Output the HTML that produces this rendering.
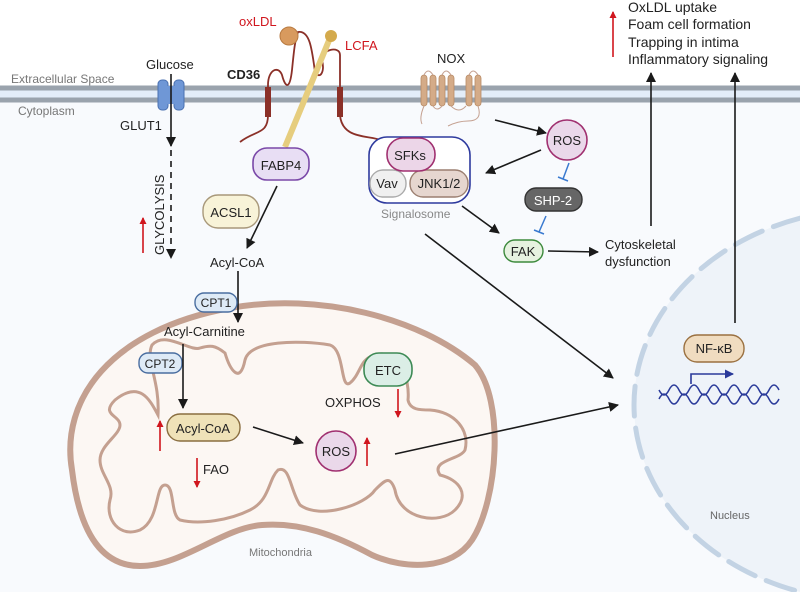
<!DOCTYPE html>
<html><head><meta charset="utf-8"><style>
html,body{margin:0;padding:0;background:#fff}
svg{display:block;font-family:"Liberation Sans",sans-serif}
</style></head><body>
<svg width="800" height="592" viewBox="0 0 800 592" xmlns="http://www.w3.org/2000/svg">
<defs>
<marker id="ah" markerWidth="10" markerHeight="10" refX="9" refY="5" orient="auto" markerUnits="userSpaceOnUse"><path d="M0,0 L10,5 L0,10 z" fill="#1a1a1a"/></marker>
<marker id="ar" markerWidth="7" markerHeight="7" refX="6" refY="3.5" orient="auto" markerUnits="userSpaceOnUse"><path d="M0,0 L7,3.5 L0,7 z" fill="#d0161e"/></marker>
<marker id="ab" markerWidth="9" markerHeight="9" refX="8" refY="4.5" orient="auto" markerUnits="userSpaceOnUse"><path d="M0,0 L9,4.5 L0,9 z" fill="#2a3a9a"/></marker>
</defs>
<rect x="0" y="100" width="800" height="492" fill="#f8fafd"/>
<!-- membrane -->
<rect x="0" y="89" width="800" height="10" fill="#e3edf9"/>
<line x1="0" y1="88" x2="800" y2="88" stroke="#9aa3ad" stroke-width="5"/>
<line x1="0" y1="100" x2="800" y2="100" stroke="#9aa3ad" stroke-width="5"/>
<text x="11" y="83" font-size="12" fill="#777">Extracellular Space</text>
<text x="18" y="115" font-size="12" fill="#777">Cytoplasm</text>

<!-- nucleus -->
<ellipse cx="872" cy="405" rx="238" ry="196" fill="#eef3f9" stroke="#c3d3e4" stroke-width="5" stroke-dasharray="30 12" stroke-linecap="round"/>
<text x="710" y="519" font-size="11" fill="#666">Nucleus</text>

<!-- mitochondria -->
<path d="M72,470 C60,400 110,330 230,308 C320,292 420,318 475,365 C505,400 498,500 472,540 C452,570 405,570 372,555 C335,535 300,522 262,525 C222,528 182,566 140,566 C95,566 78,520 72,470 Z" fill="#fcf7f3" stroke="#c4a090" stroke-width="6"/>
<path d="M115,400 C140,380 150,400 158,415 C160,380 145,360 152,345 C165,330 190,352 200,348 C210,345 215,345 225,353 C230,370 240,385 245,360 C250,340 300,340 330,345 C345,350 340,390 350,383 C360,375 360,360 372,356 C400,345 410,380 408,400 C410,410 420,410 430,410 C455,412 470,430 465,450 C460,460 430,460 440,475 C460,480 470,495 455,510 C440,525 400,520 395,490 C390,475 385,480 375,490 C365,505 320,520 300,505 C290,490 290,465 278,470 C268,480 270,500 250,510 C230,520 200,525 180,520 C170,515 175,485 165,485 C155,485 160,520 140,530 C120,538 105,520 110,500 C115,485 100,475 100,460 C100,445 120,435 120,425 C120,415 100,415 115,400 Z" fill="none" stroke="#c4a090" stroke-width="3"/>
<text x="249" y="556" font-size="11" fill="#777">Mitochondria</text>

<!-- glucose / GLUT1 -->
<rect x="158" y="80" width="10" height="30" rx="4" fill="#6f97d6" stroke="#4a70b0"/>
<rect x="174" y="80" width="10" height="30" rx="4" fill="#6f97d6" stroke="#4a70b0"/>
<rect x="165" y="86" width="12" height="18" fill="#6f97d6"/>
<text x="146" y="69" font-size="13" fill="#222">Glucose</text>
<line x1="171" y1="74" x2="171" y2="146" stroke="#1a1a1a" stroke-width="1.6" marker-end="url(#ah)"/>
<line x1="171" y1="150" x2="171" y2="258" stroke="#1a1a1a" stroke-width="1.6" stroke-dasharray="6 5" marker-end="url(#ah)"/>
<text x="120" y="130" font-size="13" fill="#222">GLUT1</text>
<text x="0" y="0" font-size="13" fill="#222" transform="translate(164,255) rotate(-90)">GLYCOLYSIS</text>
<line x1="143" y1="253" x2="143" y2="218" stroke="#d0161e" stroke-width="1.6" marker-end="url(#ar)"/>

<!-- CD36 -->
<text x="227" y="79" font-size="13" font-weight="bold" fill="#222">CD36</text>
<text x="239" y="26" font-size="13" fill="#d0161e">oxLDL</text>
<text x="345" y="50" font-size="13" fill="#d0161e">LCFA</text>
<path d="M240,142 C255,130 268,135 268,115 L268,85 C268,70 278,65 282,75 C286,90 290,88 292,70 C294,50 295,40 298,32 C310,30 312,50 315,72 C320,80 325,72 322,60 C320,50 340,45 340,55 L340,115 C342,140 370,135 380,140" fill="none" stroke="#8b3028" stroke-width="1.8"/>
<rect x="265" y="87" width="6" height="30" fill="#8b3028"/>
<rect x="337" y="87" width="6" height="30" fill="#8b3028"/>
<line x1="330" y1="38" x2="285" y2="147" stroke="#e6cd7e" stroke-width="6"/>
<circle cx="331" cy="36" r="6" fill="#d4aa4c"/>
<circle cx="289" cy="36" r="9" fill="#d89a5e" stroke="#b87a40"/>
<rect x="253" y="148" width="56" height="32" rx="14" fill="#e8def4" stroke="#7a48a8" stroke-width="1.6"/>
<text x="281" y="170" font-size="13" text-anchor="middle" fill="#222">FABP4</text>
<rect x="203" y="195" width="56" height="33" rx="15" fill="#f8f3d8" stroke="#a8987a" stroke-width="1.4"/>
<text x="231" y="217" font-size="13" text-anchor="middle" fill="#222">ACSL1</text>
<line x1="277" y1="186" x2="247" y2="248" stroke="#1a1a1a" stroke-width="1.6" marker-end="url(#ah)"/>
<text x="210" y="267" font-size="13" fill="#222">Acyl-CoA</text>
<line x1="238" y1="271" x2="238" y2="322" stroke="#1a1a1a" stroke-width="1.6" marker-end="url(#ah)"/>
<rect x="195" y="293" width="42" height="19" rx="9" fill="#deeaf6" stroke="#4a6ea0" stroke-width="1.4"/>
<text x="216" y="307" font-size="12" text-anchor="middle" fill="#222">CPT1</text>
<text x="164" y="336" font-size="13" fill="#222">Acyl-Carnitine</text>
<rect x="139" y="353" width="43" height="20" rx="9" fill="#deeaf6" stroke="#4a6ea0" stroke-width="1.4"/>
<text x="160" y="368" font-size="12" text-anchor="middle" fill="#222">CPT2</text>
<line x1="183" y1="344" x2="183" y2="408" stroke="#1a1a1a" stroke-width="1.6" marker-end="url(#ah)"/>
<rect x="167" y="414" width="73" height="27" rx="13" fill="#efe2b8" stroke="#8a6e40" stroke-width="1.4"/>
<text x="203" y="433" font-size="13" text-anchor="middle" fill="#222">Acyl-CoA</text>
<line x1="160" y1="451" x2="160" y2="421" stroke="#d0161e" stroke-width="1.6" marker-end="url(#ar)"/>
<line x1="197" y1="458" x2="197" y2="487" stroke="#d0161e" stroke-width="1.6" marker-end="url(#ar)"/>
<text x="203" y="474" font-size="13" fill="#222">FAO</text>
<line x1="253" y1="427" x2="303" y2="443" stroke="#1a1a1a" stroke-width="1.6" marker-end="url(#ah)"/>
<circle cx="336" cy="451" r="20" fill="#ead8ea" stroke="#a03070" stroke-width="1.6"/>
<text x="336" y="456" font-size="13" text-anchor="middle" fill="#222">ROS</text>
<line x1="367" y1="466" x2="367" y2="438" stroke="#d0161e" stroke-width="1.6" marker-end="url(#ar)"/>
<rect x="364" y="353" width="48" height="33" rx="15" fill="#dbeee6" stroke="#3d8a55" stroke-width="1.6"/>
<text x="388" y="375" font-size="13" text-anchor="middle" fill="#222">ETC</text>
<text x="325" y="407" font-size="13" fill="#222">OXPHOS</text>
<line x1="398" y1="389" x2="398" y2="417" stroke="#d0161e" stroke-width="1.6" marker-end="url(#ar)"/>
<line x1="395" y1="454" x2="618" y2="405" stroke="#1a1a1a" stroke-width="1.6" marker-end="url(#ah)"/>

<!-- NOX -->
<text x="437" y="63" font-size="13" fill="#222">NOX</text>
<g fill="#d4ab88" stroke="#b88a64" stroke-width="0.8">
<rect x="421" y="75" width="6" height="31" rx="3"/><rect x="430" y="75" width="6" height="31" rx="3"/>
<rect x="439" y="75" width="6" height="31" rx="3"/><rect x="448" y="75" width="6" height="31" rx="3"/>
<rect x="466" y="75" width="6" height="31" rx="3"/><rect x="475" y="75" width="6" height="31" rx="3"/>
</g>
<path d="M424,75 q4,-8 9,0 M442,75 q4,-8 9,0 M469,75 q4,-8 9,0 M433,106 q4,6 9,0 M451,106 q8,8 15,0 M424,106 q-5,12 -2,18 M478,106 q5,15 -10,15 q-10,0 -20,5" fill="none" stroke="#c4a090" stroke-width="1"/>
<line x1="495" y1="120" x2="546" y2="133" stroke="#1a1a1a" stroke-width="1.6" marker-end="url(#ah)"/>
<circle cx="567" cy="140" r="20" fill="#ead8ea" stroke="#a03070" stroke-width="1.6"/>
<text x="567" y="145" font-size="13" text-anchor="middle" fill="#222">ROS</text>

<!-- signalosome -->
<rect x="369" y="137" width="101" height="66" rx="18" fill="#fff" stroke="#2e3a9e" stroke-width="1.6"/>
<rect x="370" y="170" width="36" height="27" rx="13" fill="#f0f0f0" stroke="#aaa" stroke-width="1.4"/>
<text x="387" y="188" font-size="13" text-anchor="middle" fill="#222">Vav</text>
<rect x="410" y="170" width="58" height="27" rx="13" fill="#e6d6cf" stroke="#9b7f70" stroke-width="1.4"/>
<text x="439" y="188" font-size="13" text-anchor="middle" fill="#222">JNK1/2</text>
<rect x="387" y="138" width="48" height="33" rx="16" fill="#ecd6e8" stroke="#a03070" stroke-width="1.6"/>
<text x="410" y="160" font-size="13" text-anchor="middle" fill="#222">SFKs</text>
<text x="381" y="218" font-size="12" fill="#888">Signalosome</text>
<line x1="541" y1="150" x2="486" y2="173" stroke="#1a1a1a" stroke-width="1.6" marker-end="url(#ah)"/>
<path d="M569,163 L563,179 M558,177 L568,181" stroke="#3a7ad0" stroke-width="1.5" fill="none"/>
<rect x="525" y="188" width="57" height="23" rx="11" fill="#666" stroke="#333" stroke-width="1.4"/>
<text x="553" y="205" font-size="13" text-anchor="middle" fill="#fff">SHP-2</text>
<path d="M546,216 L539,232 M534,230 L544,234" stroke="#3a7ad0" stroke-width="1.5" fill="none"/>
<line x1="462" y1="206" x2="499" y2="233" stroke="#1a1a1a" stroke-width="1.6" marker-end="url(#ah)"/>
<rect x="504" y="240" width="39" height="22" rx="11" fill="#e6f2e0" stroke="#3d8a3d" stroke-width="1.4"/>
<text x="523" y="256" font-size="13" text-anchor="middle" fill="#222">FAK</text>
<line x1="548" y1="251" x2="598" y2="252" stroke="#1a1a1a" stroke-width="1.6" marker-end="url(#ah)"/>
<text x="605" y="249" font-size="13" fill="#222">Cytoskeletal</text>
<text x="605" y="266" font-size="13" fill="#222">dysfunction</text>
<line x1="651" y1="226" x2="651" y2="73" stroke="#1a1a1a" stroke-width="1.6" marker-end="url(#ah)"/>
<line x1="735" y1="323" x2="735" y2="73" stroke="#1a1a1a" stroke-width="1.6" marker-end="url(#ah)"/>
<line x1="425" y1="234" x2="613" y2="378" stroke="#1a1a1a" stroke-width="1.6" marker-end="url(#ah)"/>

<!-- NF-kB -->
<rect x="684" y="335" width="60" height="27" rx="13" fill="#f0dcc0" stroke="#9a7040" stroke-width="1.4"/>
<text x="714" y="353" font-size="13" text-anchor="middle" fill="#222">NF-κB</text>
<path d="M691,384 L691,374 L733,374" fill="none" stroke="#2a3a9a" stroke-width="1.6" marker-end="url(#ab)"/>
<path d="M659,390 q5,10 10,0 q5,-10 10,0 q5,10 10,0 q5,-10 10,0 q5,10 10,0 q5,-10 10,0 q5,10 10,0 q5,-10 10,0 q5,10 10,0 q5,-10 10,0 q5,10 10,0 q5,-10 10,0" fill="none" stroke="#2a3a9a" stroke-width="1.5"/>
<path d="M659,399 q5,-10 10,0 q5,10 10,0 q5,-10 10,0 q5,10 10,0 q5,-10 10,0 q5,10 10,0 q5,-10 10,0 q5,10 10,0 q5,-10 10,0 q5,10 10,0 q5,-10 10,0 q5,10 10,0" fill="none" stroke="#2a3a9a" stroke-width="1.5"/>

<!-- outcomes -->
<line x1="613" y1="57" x2="613" y2="12" stroke="#d0161e" stroke-width="1.6" marker-end="url(#ar)"/>
<g font-size="14" fill="#222">
<text x="628" y="12">OxLDL uptake</text>
<text x="628" y="29">Foam cell formation</text>
<text x="628" y="47">Trapping in intima</text>
<text x="628" y="64">Inflammatory signaling</text>
</g>
</svg>
</body></html>
